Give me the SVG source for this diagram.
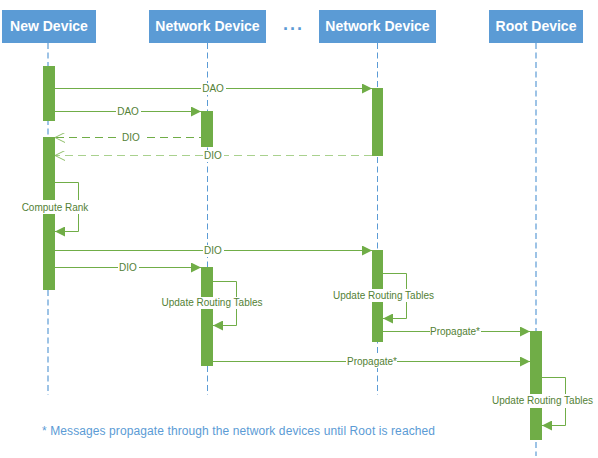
<svg xmlns="http://www.w3.org/2000/svg" width="598" height="458" viewBox="0 0 598 458">
<style>
.hdr{fill:#5B9BD5}
.ht{font-family:"Liberation Sans",Arial,sans-serif;font-weight:bold;font-size:14px;fill:#fff;text-anchor:middle}
.life{stroke:#5B9BD5;stroke-width:1;stroke-dasharray:6 3.5;fill:none}
.lifel{stroke:#9DC3E6;stroke-width:2;stroke-dasharray:6 3.5;fill:none}
.act{fill:#70AD47}
.msg{stroke:#70AD47;stroke-width:1;fill:none}
.ret{stroke:#70AD47;stroke-width:1;fill:none;stroke-dasharray:8 5}
.ret2{stroke:#A9D18E;stroke-width:1.2;fill:none;stroke-dasharray:8 5}
.lbg{fill:#fff}
.lt{font-family:"Liberation Sans",Arial,sans-serif;font-size:10px;fill:#538135;text-anchor:middle}
.note{font-family:"Liberation Sans",Arial,sans-serif;font-size:12px;fill:#5B9BD5}
</style>
<defs>
<marker id="fa" viewBox="0 0 10 10" refX="10" refY="5" markerWidth="10" markerHeight="10" markerUnits="userSpaceOnUse" orient="auto">
<path d="M0,0 L10,5 L0,10 Z" fill="#70AD47"/>
</marker>
<marker id="oa" viewBox="0 0 10 10" refX="10" refY="5" markerWidth="10" markerHeight="10" markerUnits="userSpaceOnUse" orient="auto">
<path d="M0,0 L10,5 L0,10" fill="none" stroke="#8FBF6A" stroke-width="1"/>
</marker>
</defs>
<rect width="598" height="458" fill="#fff"/>

<g id="lifelines">
<line class="lifel" x1="48" y1="43" x2="48" y2="395"/>
<line class="life" x1="207.5" y1="43" x2="207.5" y2="395"/>
<line class="life" x1="377.5" y1="43" x2="377.5" y2="395"/>
<line class="lifel" x1="536" y1="43" x2="536" y2="456"/>
</g>

<g id="new-device">
<rect class="hdr" x="2" y="10" width="94" height="33"/>
<text class="ht" x="49" y="31">New Device</text>
<rect class="act" x="43" y="66" width="12" height="55"/>
<rect class="act" x="43" y="137" width="12" height="153"/>
</g>
<g id="network-device-1">
<rect class="hdr" x="149" y="10" width="117" height="33"/>
<text class="ht" x="207.5" y="31">Network Device</text>
<rect class="act" x="201" y="111" width="12" height="36"/>
<rect class="act" x="201" y="267" width="12" height="99"/>
</g>
<g id="ellipsis">
<text x="283" y="30" font-family="Liberation Sans,Arial,sans-serif" font-weight="bold" font-size="18" letter-spacing="2" fill="#5B9BD5">...</text>
</g>
<g id="network-device-2">
<rect class="hdr" x="319" y="10" width="117" height="33"/>
<text class="ht" x="377.5" y="31">Network Device</text>
<rect class="act" x="372" y="88" width="11" height="68"/>
<rect class="act" x="372" y="250" width="11" height="92"/>
</g>
<g id="root-device">
<rect class="hdr" x="489" y="10" width="94" height="33"/>
<text class="ht" x="536" y="31">Root Device</text>
<rect class="act" x="530" y="331" width="12" height="109"/>
</g>

<g id="connectors">
<!-- DAO long -->
<line class="msg" x1="55" y1="88.5" x2="372" y2="88.5" marker-end="url(#fa)"/>
<rect class="lbg" x="201" y="83" width="25" height="12"/>
<text class="lt" x="213" y="92">DAO</text>
<!-- DAO short -->
<line class="msg" x1="55" y1="111.5" x2="201" y2="111.5" marker-end="url(#fa)"/>
<rect class="lbg" x="116" y="106" width="25" height="12"/>
<text class="lt" x="128" y="115">DAO</text>
<!-- DIO return short -->
<line class="ret" x1="207" y1="137.5" x2="55" y2="137.5" marker-end="url(#oa)"/>
<rect class="lbg" x="121" y="132" width="21" height="12"/>
<text class="lt" x="131" y="141">DIO</text>
<!-- DIO return long -->
<line class="ret2" x1="372" y1="155.5" x2="55" y2="155.5" marker-end="url(#oa)"/>
<rect class="lbg" x="203" y="150" width="21" height="12"/>
<text class="lt" x="213" y="159">DIO</text>
<!-- Compute Rank self -->
<polyline class="msg" points="55,182.5 78.5,182.5 78.5,231.5 55,231.5" marker-end="url(#fa)"/>
<rect class="lbg" x="22" y="200" width="66" height="14"/>
<text class="lt" x="55" y="210.5">Compute Rank</text>
<!-- DIO long -->
<line class="msg" x1="55" y1="250.5" x2="372" y2="250.5" marker-end="url(#fa)"/>
<rect class="lbg" x="203" y="245" width="21" height="12"/>
<text class="lt" x="213" y="254">DIO</text>
<!-- DIO short -->
<line class="msg" x1="55" y1="267.5" x2="201" y2="267.5" marker-end="url(#fa)"/>
<rect class="lbg" x="118" y="262" width="21" height="12"/>
<text class="lt" x="128" y="271">DIO</text>
<!-- Update routing NetDev1 -->
<polyline class="msg" points="213,281.5 236.5,281.5 236.5,325.5 213,325.5" marker-end="url(#fa)"/>
<rect class="lbg" x="161" y="297" width="102" height="12"/>
<text class="lt" x="212" y="306">Update Routing Tables</text>
<!-- Update routing NetDev2 -->
<polyline class="msg" points="383,273.5 406.5,273.5 406.5,318.5 383,318.5" marker-end="url(#fa)"/>
<rect class="lbg" x="332" y="289" width="103" height="13"/>
<text class="lt" x="383.5" y="299">Update Routing Tables</text>
<!-- Propagate from NetDev2 -->
<line class="msg" x1="383" y1="331.5" x2="530" y2="331.5" marker-end="url(#fa)"/>
<rect class="lbg" x="430" y="326" width="51" height="12"/>
<text class="lt" x="455" y="335">Propagate*</text>
<!-- Propagate from NetDev1 -->
<line class="msg" x1="213" y1="361.5" x2="530" y2="361.5" marker-end="url(#fa)"/>
<rect class="lbg" x="346" y="356" width="51" height="12"/>
<text class="lt" x="372" y="365">Propagate*</text>
<!-- Root update -->
<polyline class="msg" points="542,377.5 565.5,377.5 565.5,425.5 542,425.5" marker-end="url(#fa)"/>
<rect class="lbg" x="491" y="394" width="103" height="14"/>
<text class="lt" x="542.5" y="404">Update Routing Tables</text>
</g>

<text class="note" x="42" y="435" textLength="393">* Messages propagate through the network devices until Root is reached</text>
</svg>
